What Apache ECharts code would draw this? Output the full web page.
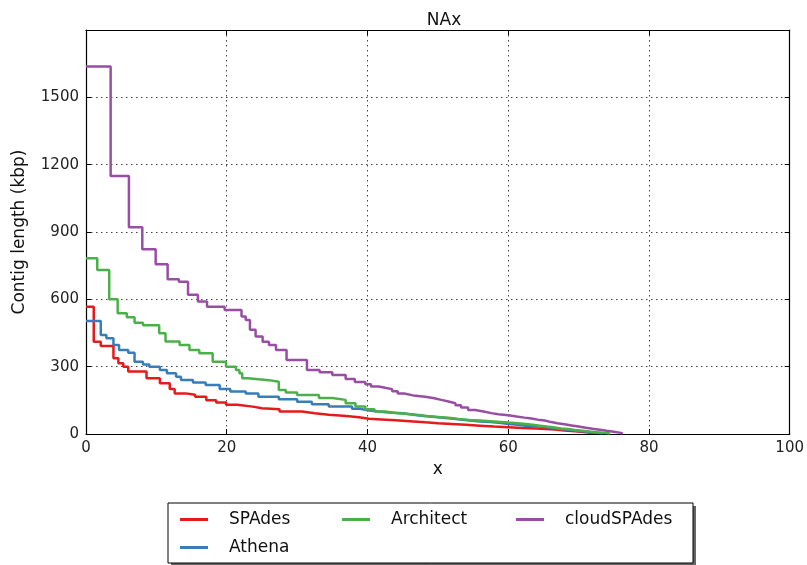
<!DOCTYPE html>
<html><head><meta charset="utf-8">
<script src="https://cdn.jsdelivr.net/npm/echarts@6/dist/echarts.min.js"></script>
<style>html,body{margin:0;padding:0;background:#fff}#c{width:807px;height:565px}</style>
</head><body><div id="c"></div>
<script>
const seriesNames = ['SPAdes', 'Athena', 'Architect', 'cloudSPAdes'];
const xTicks = [0, 20, 40, 60, 80, 100];
const yTicks = [0, 300, 600, 900, 1200, 1500];

const spades = [[0,567],[1.1,411],[2.1,392],[3.9,337],[4.6,315],[5.3,300],[6,278],[8.6,248],[10.5,226],[11.9,200],[12.6,181],[14.2,175],[15.5,166],[17.1,150],[18.5,140],[19.9,130],[21.5,122],[23.7,115],[25,110],[27.5,100],[30.7,92],[32.5,86],[34.5,80],[37,75],[38.8,68],[40.2,65],[42,61],[44,57],[46,52],[48.2,48],[50,45],[52,41],[54,37],[56,33],[58,30],[60,27],[62,24],[64,20],[66.6,16],[68,12],[69.5,8],[71,4],[72,0]];
const athena = [[0,504],[2.1,441],[2.9,427],[3.9,397],[4.7,374],[6.0,362],[6.9,322],[8.1,310],[9,300],[10.5,285],[11.5,271],[12.8,255],[13.5,241],[15.2,230],[17,218],[19,200],[20.5,189],[22.7,180],[24.5,166],[27.4,155],[30,144],[32.1,133],[34.5,122],[37.8,112],[39,106],[40,100],[41.6,96],[43,92],[45,86],[46.5,80],[48,75],[50,70],[51.5,66],[52.9,60],[54.5,56],[56,53],[57.5,49],[59,45],[60,41],[61.4,37],[62.5,34],[64,30],[65.5,26],[66.6,22],[67.5,19],[68.5,15],[69.5,12],[70.5,9],[71.5,6],[72.5,3],[73.5,0]];
const architect = [[0,783],[1.6,731],[3.3,600],[4.5,538],[5.8,520],[6.9,496],[8.1,485],[10.4,449],[11.3,412],[13.3,397],[14.7,374],[16.1,360],[18,322],[19.9,300],[21.3,285],[21.8,271],[22.2,248],[23,240],[26,233],[27.4,196],[28.4,185],[30,174],[33.1,160],[35,152],[36.9,137],[38.3,122],[39.7,110],[41,100],[42.5,94],[44,89],[45.8,85],[47.2,80],[48.5,76],[50,72],[51.5,67],[52.9,62],[54.5,60],[56,57],[57.5,54],[59,51],[60,48],[61.4,45],[62.5,41],[63.5,37],[64.5,33],[65.5,29],[66.6,25],[67.5,22],[68.5,18],[69.5,15],[70.5,11],[71.5,8],[72.5,5],[73.5,2],[74.5,0]];
const cloudspades = [[0,1637],[3.5,1150],[6.1,921],[8.0,823],[9.9,756],[11.6,690],[13.2,678],[14.5,620],[15.9,590],[17.2,567],[19.7,553],[22.1,523],[22.7,508],[23.3,464],[24.1,434],[25.1,411],[26,397],[27,374],[28.5,330],[31.4,285],[33.2,275],[35,263],[36.9,245],[38.2,232],[39.7,222],[40.5,212],[41.6,206],[42.5,200],[43.5,190],[44.3,180],[45.2,172],[46.5,166],[48.2,159],[49.5,152],[50.5,145],[51.5,137],[52.5,128],[53.3,118],[54.3,107],[55.3,100],[56.5,93],[57.6,88],[58.6,84],[60,78],[61.2,73],[62.3,69],[63.3,64],[64.2,60],[65.2,53],[66.1,48],[67,43],[68,38],[69,33],[70,28],[71,23],[72,19],[73,14],[74,10],[75,5],[76,1.5],[76.3,0]];

const colors = {SPAdes:'#e41a1c', Athena:'#377eb8', Architect:'#4daf4a', cloudSPAdes:'#984ea3'};
const dataMap = {SPAdes:spades, Athena:athena, Architect:architect, cloudSPAdes:cloudspades};
const FONT = 'DejaVu Sans';

const chart = echarts.init(document.getElementById('c'));
const axisCommon = {
  min: 0,
  axisLine: {show: true, onZero: false, lineStyle: {color: '#000', width: 1.2}},
  axisTick: {show: true, inside: true, length: 5, lineStyle: {color: '#000'}},
};
function legendItem(name, left, top) {
  return {
    data: [name], left: left, top: top, padding: 0, orient: 'horizontal',
    icon: 'rect', itemWidth: 28, itemHeight: 3,
    textStyle: {fontFamily: FONT, fontSize: 17, color: '#111', padding: [0, 0, 0, 16]},
    selectedMode: false
  };
}
chart.setOption({
  animation: false,
  title: {text: 'NAx', left: 439, top: 7, textAlign: 'center',
    textStyle: {fontFamily: FONT, fontSize: 17, fontWeight: 'normal', color: '#111'}},
  grid: {left: 86, right: 15, top: 30, bottom: 131, containLabel: false},
  legend: [
    legendItem('SPAdes', 180, 511),
    legendItem('Architect', 342, 511),
    legendItem('cloudSPAdes', 516, 511),
    legendItem('Athena', 180, 539)
  ],
  graphic: [
    {type: 'rect', shape: {x: 171, y: 506, width: 525, height: 60}, style: {fill: '#666'}, z: -2},
    {type: 'rect', shape: {x: 168, y: 503, width: 525, height: 60}, style: {fill: '#fff', stroke: '#000', lineWidth: 1}, z: -1}
  ],
  xAxis: [
    Object.assign({}, axisCommon, {
      type: 'value', max: 100, interval: 20, position: 'bottom',
      name: 'x', nameLocation: 'middle', nameGap: 27,
      nameTextStyle: {fontFamily: FONT, fontSize: 17, color: '#111'},
      axisLabel: {fontFamily: FONT, fontSize: 15, color: '#222', margin: 7,
        formatter: v => xTicks.includes(v) ? String(v) : ''},
      splitLine: {show: true, lineStyle: {type: [1.5, 3.5], color: '#444', width: 1}}
    }),
    Object.assign({}, axisCommon, {
      type: 'value', max: 100, interval: 20, position: 'top',
      axisLabel: {show: false}, splitLine: {show: false}
    })
  ],
  yAxis: [
    Object.assign({}, axisCommon, {
      type: 'value', max: 1800, interval: 300, position: 'left',
      name: 'Contig length (kbp)', nameLocation: 'middle', nameGap: 58,
      nameTextStyle: {fontFamily: FONT, fontSize: 17, color: '#111'},
      axisLabel: {fontFamily: FONT, fontSize: 15, color: '#222', margin: 7, showMaxLabel: false,
        formatter: v => yTicks.includes(v) ? String(v) : ''},
      splitLine: {show: true, lineStyle: {type: [1.5, 3.5], color: '#444', width: 1}}
    }),
    Object.assign({}, axisCommon, {
      type: 'value', max: 1800, interval: 300, position: 'right',
      axisLabel: {show: false}, splitLine: {show: false}
    })
  ],
  series: seriesNames.map(n => ({
    name: n, type: 'line', step: 'end', data: dataMap[n],
    xAxisIndex: 0, yAxisIndex: 0,
    showSymbol: false, symbol: 'none',
    color: colors[n],
    lineStyle: {color: colors[n], width: 2.5},
    z: 3
  }))
});
</script></body></html>
